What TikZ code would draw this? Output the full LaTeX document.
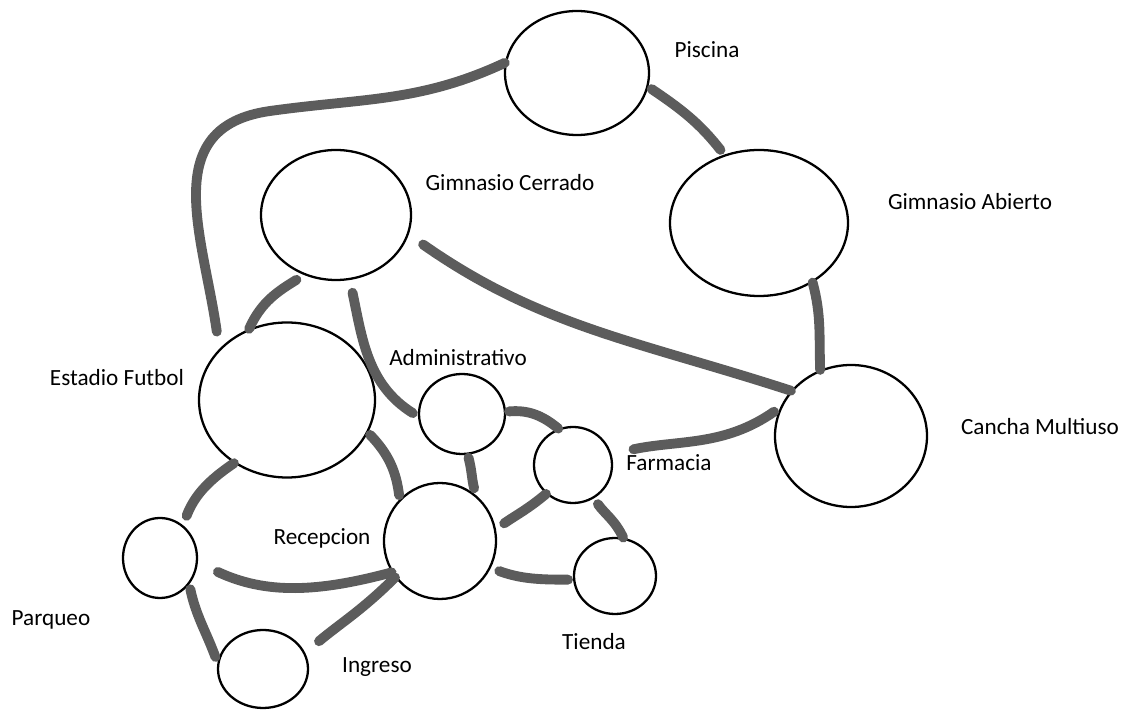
\documentclass[tikz,border=0pt]{standalone}
\usepackage{fontspec}
\setmainfont{Carlito}
\usetikzlibrary{shapes.geometric}

\begin{document}
\begin{tikzpicture}[
  every node/.style={font=\fontsize{13.2}{15}\selectfont},
  area/.style={draw, ellipse, line width=1.3pt, inner sep=0pt},
  link/.style={draw=black!64, line width=5.6pt, line cap=round}
]
  \useasboundingbox (0,0) rectangle (22.68,14.2);

  % Areas
  \node[area, minimum width=2.88cm, minimum height=2.48cm] (pisc) at (11.54,12.74) {};
  \node[area, minimum width=3.0cm,  minimum height=2.6cm]  (gcer) at (6.72,9.90) {};
  \node[area, minimum width=3.56cm, minimum height=2.92cm] (gabi) at (15.18,9.74) {};
  \node[area, minimum width=3.52cm, minimum height=3.1cm]  (esta) at (5.74,6.20) {};
  \node[area, minimum width=1.72cm, minimum height=1.6cm]  (admi) at (9.24,5.92) {};
  \node[area, minimum width=1.56cm, minimum height=1.52cm] (farm) at (11.46,4.90) {};
  \node[area, minimum width=3.04cm, minimum height=2.84cm] (canc) at (17.02,5.48) {};
  \node[area, minimum width=1.48cm, minimum height=1.6cm]  (parq) at (3.20,3.04) {};
  \node[area, minimum width=2.24cm, minimum height=2.32cm] (rece) at (8.80,3.38) {};
  \node[area, minimum width=1.64cm, minimum height=1.52cm] (tien) at (12.30,2.68) {};
  \node[area, minimum width=1.8cm,  minimum height=1.56cm] (ingr) at (5.26,0.82) {};

  % Names
  \node (piscL) at (14.14,13.20) {Piscina};
  \node (gcerL) at (10.20,10.54) {Gimnasio Cerrado};
  \node (gabiL) at (19.40,10.16) {Gimnasio Abierto};
  \node (estaL) at (2.34,6.64)   {Estadio Futbol};
  \node (admiL) at (9.16,7.04)   {Administrativo};
  \node (farmL) at (13.38,4.94)  {Farmacia};
  \node (cancL) at (20.80,5.66)  {Cancha Multiuso};
  \node (parqL) at (1.02,1.80)   {Parqueo};
  \node (receL) at (6.44,3.44)   {Recepcion};
  \node (ingrL) at (7.54,0.86)   {Ingreso};
  \node (tienL) at (11.88,1.36)  {Tienda};

  % Paths
  \coordinate (bend) at (5.4,11.98);
  \draw[link, shorten >=0.35cm] (pisc.172) to[out=205,in=8] (bend)
    to[out=188,in=98,looseness=1.2] (esta.143);
  \draw[link, shorten <=0.08cm, shorten >=0.12cm] (pisc.349) to[out=-34,in=128] (gabi.117);
  \draw[link, shorten <=0.35cm] (gcer.-15) to[out=-35,in=162] (canc.143);
  \draw[link] (gabi.-48) to[out=-75,in=92] (canc.115);
  \draw[link, shorten <=0.18cm] (gcer.242) to[out=212,in=66] (esta.118);
  \draw[link, shorten <=0.26cm, shorten >=0.12cm] (gcer.-78) to[out=-78,in=148] (admi.183);
  \draw[link, shorten <=0.06cm] (admi.3) to[out=5,in=140] (farm.112);
  \draw[link, shorten <=0.15cm, shorten >=0.45cm] (canc.158) to[out=215,in=12] (farm.16);
  \draw[link, shorten <=0.06cm, shorten >=0.08cm] (esta.-22) to[out=-46,in=97] (rece.134);
  \draw[link, shorten >=0.2cm] (esta.230) to[out=214,in=69] (parq.55);
  \draw[link, shorten <=0.06cm, shorten >=0.14cm] (admi.-82) to[out=-75,in=105] (rece.52);
  \draw[link, shorten >=0.2cm] (farm.227) to[out=220,in=35] (rece.12);
  \draw[link, shorten <=0.14cm] (farm.-58) to[out=-55,in=115] (tien.78);
  \draw[link, shorten <=0.44cm] (parq.-7) to[out=-25,in=195] (rece.213);
  \draw[link, shorten <=0.1cm, shorten >=0.12cm] (parq.-42) to[out=-78,in=110] (ingr.172);
  \draw[link, shorten >=0.36cm] (rece.219) to[out=225,in=40] (ingr.21);
  \draw[link, shorten <=0.18cm, shorten >=0.1cm] (rece.-28) to[out=-20,in=180] (tien.185);
\end{tikzpicture}
\end{document}
